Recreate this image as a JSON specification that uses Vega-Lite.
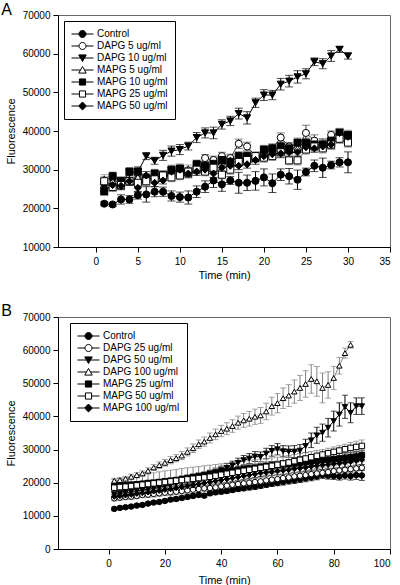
{
"$schema": "https://vega.github.io/schema/vega-lite/v6.json",
"padding": {"left": 0, "top": 1, "right": 5, "bottom": 0},
"config": {
  "font": "Liberation Sans",
  "view": {"stroke": "#666", "strokeWidth": 1},
  "axis": {"grid": false, "domainColor": "#000", "tickColor": "#000", "labelColor": "#000", "titleColor": "#000", "labelFontSize": 10, "titleFontSize": 11, "titleFontWeight": "normal", "tickSize": 5, "labelPadding": 3, "titlePadding": 6},
  "axisX": {"labelPadding": 4, "titlePadding": 3},
  "legend": {"titleFontSize": 10, "labelFontSize": 10, "labelColor": "#000", "symbolStrokeWidth": 1, "strokeColor": "#000", "fillColor": "#fff", "padding": 7, "labelOffset": 14, "symbolSize": 121, "rowPadding": -1},
  "title": {"fontWeight": "normal", "fontSize": 16, "anchor": "start", "frame": "bounds", "color": "#000"}
},
"datasets": {
"a": [
{"s":"Control","t":1,"v":21200,"e":500},{"s":"Control","t":2,"v":21000,"e":500},{"s":"Control","t":3,"v":22300,"e":1200},{"s":"Control","t":4,"v":22300,"e":1000},{"s":"Control","t":5,"v":23400,"e":1000},{"s":"Control","t":6,"v":23600,"e":2000},{"s":"Control","t":7,"v":24300,"e":1300},{"s":"Control","t":8,"v":24300,"e":1200},{"s":"Control","t":9,"v":23200,"e":1300},{"s":"Control","t":10,"v":22900,"e":1300},{"s":"Control","t":11,"v":22800,"e":1700},{"s":"Control","t":12,"v":24300,"e":1500},{"s":"Control","t":13,"v":25600,"e":1500},{"s":"Control","t":14,"v":27200,"e":1800},{"s":"Control","t":15,"v":26200,"e":1800},{"s":"Control","t":16,"v":27200,"e":1000},{"s":"Control","t":17,"v":26600,"e":2700},{"s":"Control","t":18,"v":26600,"e":2000},{"s":"Control","t":19,"v":27100,"e":2400},{"s":"Control","t":20,"v":28000,"e":2200},{"s":"Control","t":21,"v":26500,"e":2400},{"s":"Control","t":22,"v":28700,"e":1500},{"s":"Control","t":23,"v":28300,"e":2000},{"s":"Control","t":24,"v":27400,"e":2500},{"s":"Control","t":25,"v":29400,"e":1000},{"s":"Control","t":26,"v":31000,"e":1500},{"s":"Control","t":27,"v":30500,"e":2500},{"s":"Control","t":28,"v":31200,"e":1000},{"s":"Control","t":29,"v":31900,"e":1200},{"s":"Control","t":30,"v":31900,"e":2700},
{"s":"DAPG 5 ug/ml","t":1,"v":26500,"e":1200},{"s":"DAPG 5 ug/ml","t":2,"v":25500,"e":1000},{"s":"DAPG 5 ug/ml","t":3,"v":26500,"e":900},{"s":"DAPG 5 ug/ml","t":4,"v":27000,"e":1000},{"s":"DAPG 5 ug/ml","t":5,"v":27500,"e":1000},{"s":"DAPG 5 ug/ml","t":6,"v":27500,"e":900},{"s":"DAPG 5 ug/ml","t":7,"v":28000,"e":1000},{"s":"DAPG 5 ug/ml","t":8,"v":28500,"e":1000},{"s":"DAPG 5 ug/ml","t":9,"v":29000,"e":1100},{"s":"DAPG 5 ug/ml","t":10,"v":30000,"e":1000},{"s":"DAPG 5 ug/ml","t":11,"v":29500,"e":1100},{"s":"DAPG 5 ug/ml","t":12,"v":31000,"e":1000},{"s":"DAPG 5 ug/ml","t":13,"v":33000,"e":900},{"s":"DAPG 5 ug/ml","t":14,"v":32500,"e":1000},{"s":"DAPG 5 ug/ml","t":15,"v":33500,"e":1000},{"s":"DAPG 5 ug/ml","t":16,"v":33000,"e":1000},{"s":"DAPG 5 ug/ml","t":17,"v":36700,"e":1200},{"s":"DAPG 5 ug/ml","t":18,"v":36000,"e":1100},{"s":"DAPG 5 ug/ml","t":19,"v":33500,"e":1000},{"s":"DAPG 5 ug/ml","t":20,"v":34500,"e":1000},{"s":"DAPG 5 ug/ml","t":21,"v":35500,"e":1100},{"s":"DAPG 5 ug/ml","t":22,"v":38300,"e":1200},{"s":"DAPG 5 ug/ml","t":23,"v":36000,"e":1000},{"s":"DAPG 5 ug/ml","t":24,"v":35500,"e":1000},{"s":"DAPG 5 ug/ml","t":25,"v":39500,"e":2000},{"s":"DAPG 5 ug/ml","t":26,"v":37500,"e":1500},{"s":"DAPG 5 ug/ml","t":27,"v":36500,"e":1500},{"s":"DAPG 5 ug/ml","t":28,"v":39000,"e":1000},{"s":"DAPG 5 ug/ml","t":29,"v":39300,"e":1200},{"s":"DAPG 5 ug/ml","t":30,"v":38500,"e":1200},
{"s":"DAPG 10 ug/ml","t":1,"v":25500,"e":1000},{"s":"DAPG 10 ug/ml","t":2,"v":27000,"e":1200},{"s":"DAPG 10 ug/ml","t":3,"v":27000,"e":1000},{"s":"DAPG 10 ug/ml","t":4,"v":29000,"e":1200},{"s":"DAPG 10 ug/ml","t":5,"v":29500,"e":1200},{"s":"DAPG 10 ug/ml","t":6,"v":33500,"e":900},{"s":"DAPG 10 ug/ml","t":7,"v":32300,"e":900},{"s":"DAPG 10 ug/ml","t":8,"v":33700,"e":1300},{"s":"DAPG 10 ug/ml","t":9,"v":34800,"e":1300},{"s":"DAPG 10 ug/ml","t":10,"v":35200,"e":1300},{"s":"DAPG 10 ug/ml","t":11,"v":36100,"e":1000},{"s":"DAPG 10 ug/ml","t":12,"v":38300,"e":1300},{"s":"DAPG 10 ug/ml","t":13,"v":39500,"e":1300},{"s":"DAPG 10 ug/ml","t":14,"v":39500,"e":1500},{"s":"DAPG 10 ug/ml","t":15,"v":41700,"e":1200},{"s":"DAPG 10 ug/ml","t":16,"v":42600,"e":1200},{"s":"DAPG 10 ug/ml","t":17,"v":44500,"e":1400},{"s":"DAPG 10 ug/ml","t":18,"v":43400,"e":1600},{"s":"DAPG 10 ug/ml","t":19,"v":47300,"e":1200},{"s":"DAPG 10 ug/ml","t":20,"v":49300,"e":1400},{"s":"DAPG 10 ug/ml","t":21,"v":49300,"e":1200},{"s":"DAPG 10 ug/ml","t":22,"v":52100,"e":1500},{"s":"DAPG 10 ug/ml","t":23,"v":52900,"e":1500},{"s":"DAPG 10 ug/ml","t":24,"v":54000,"e":1600},{"s":"DAPG 10 ug/ml","t":25,"v":54800,"e":1300},{"s":"DAPG 10 ug/ml","t":26,"v":57900,"e":1000},{"s":"DAPG 10 ug/ml","t":27,"v":57400,"e":1300},{"s":"DAPG 10 ug/ml","t":28,"v":59400,"e":1400},{"s":"DAPG 10 ug/ml","t":29,"v":61100,"e":800},{"s":"DAPG 10 ug/ml","t":30,"v":59400,"e":800},
{"s":"MAPG 5 ug/ml","t":1,"v":27500,"e":1200},{"s":"MAPG 5 ug/ml","t":2,"v":27000,"e":1000},{"s":"MAPG 5 ug/ml","t":3,"v":26500,"e":1000},{"s":"MAPG 5 ug/ml","t":4,"v":27500,"e":1000},{"s":"MAPG 5 ug/ml","t":5,"v":28000,"e":1000},{"s":"MAPG 5 ug/ml","t":6,"v":28000,"e":900},{"s":"MAPG 5 ug/ml","t":7,"v":28500,"e":1000},{"s":"MAPG 5 ug/ml","t":8,"v":28800,"e":1000},{"s":"MAPG 5 ug/ml","t":9,"v":29500,"e":1000},{"s":"MAPG 5 ug/ml","t":10,"v":30000,"e":1000},{"s":"MAPG 5 ug/ml","t":11,"v":30200,"e":1000},{"s":"MAPG 5 ug/ml","t":12,"v":30500,"e":1100},{"s":"MAPG 5 ug/ml","t":13,"v":31000,"e":1000},{"s":"MAPG 5 ug/ml","t":14,"v":31500,"e":1000},{"s":"MAPG 5 ug/ml","t":15,"v":32000,"e":1000},{"s":"MAPG 5 ug/ml","t":16,"v":32500,"e":1000},{"s":"MAPG 5 ug/ml","t":17,"v":33000,"e":1100},{"s":"MAPG 5 ug/ml","t":18,"v":33500,"e":1100},{"s":"MAPG 5 ug/ml","t":19,"v":33500,"e":1000},{"s":"MAPG 5 ug/ml","t":20,"v":34000,"e":1000},{"s":"MAPG 5 ug/ml","t":21,"v":34500,"e":1000},{"s":"MAPG 5 ug/ml","t":22,"v":35000,"e":1100},{"s":"MAPG 5 ug/ml","t":23,"v":35000,"e":1000},{"s":"MAPG 5 ug/ml","t":24,"v":35500,"e":1000},{"s":"MAPG 5 ug/ml","t":25,"v":36000,"e":1100},{"s":"MAPG 5 ug/ml","t":26,"v":36500,"e":1000},{"s":"MAPG 5 ug/ml","t":27,"v":36500,"e":1100},{"s":"MAPG 5 ug/ml","t":28,"v":37000,"e":1000},{"s":"MAPG 5 ug/ml","t":29,"v":38000,"e":1100},{"s":"MAPG 5 ug/ml","t":30,"v":38500,"e":1100},
{"s":"MAPG 10 ug/ml","t":1,"v":24500,"e":1200},{"s":"MAPG 10 ug/ml","t":2,"v":28300,"e":1100},{"s":"MAPG 10 ug/ml","t":3,"v":27000,"e":1200},{"s":"MAPG 10 ug/ml","t":4,"v":29500,"e":1000},{"s":"MAPG 10 ug/ml","t":5,"v":29500,"e":1200},{"s":"MAPG 10 ug/ml","t":6,"v":27800,"e":1100},{"s":"MAPG 10 ug/ml","t":7,"v":29000,"e":1100},{"s":"MAPG 10 ug/ml","t":8,"v":28500,"e":1100},{"s":"MAPG 10 ug/ml","t":9,"v":30000,"e":1200},{"s":"MAPG 10 ug/ml","t":10,"v":30300,"e":1200},{"s":"MAPG 10 ug/ml","t":11,"v":29200,"e":1200},{"s":"MAPG 10 ug/ml","t":12,"v":31400,"e":1100},{"s":"MAPG 10 ug/ml","t":13,"v":31000,"e":1100},{"s":"MAPG 10 ug/ml","t":14,"v":31500,"e":1200},{"s":"MAPG 10 ug/ml","t":15,"v":32500,"e":1100},{"s":"MAPG 10 ug/ml","t":16,"v":32000,"e":1100},{"s":"MAPG 10 ug/ml","t":17,"v":33500,"e":1200},{"s":"MAPG 10 ug/ml","t":18,"v":33500,"e":1200},{"s":"MAPG 10 ug/ml","t":19,"v":33000,"e":1100},{"s":"MAPG 10 ug/ml","t":20,"v":35200,"e":1100},{"s":"MAPG 10 ug/ml","t":21,"v":35500,"e":1200},{"s":"MAPG 10 ug/ml","t":22,"v":36000,"e":1200},{"s":"MAPG 10 ug/ml","t":23,"v":35500,"e":1100},{"s":"MAPG 10 ug/ml","t":24,"v":37000,"e":1200},{"s":"MAPG 10 ug/ml","t":25,"v":37000,"e":1200},{"s":"MAPG 10 ug/ml","t":26,"v":36500,"e":1200},{"s":"MAPG 10 ug/ml","t":27,"v":36500,"e":1300},{"s":"MAPG 10 ug/ml","t":28,"v":37500,"e":1200},{"s":"MAPG 10 ug/ml","t":29,"v":39500,"e":1200},{"s":"MAPG 10 ug/ml","t":30,"v":39000,"e":1200},
{"s":"MAPG 25 ug/ml","t":1,"v":27000,"e":1200},{"s":"MAPG 25 ug/ml","t":2,"v":25500,"e":1100},{"s":"MAPG 25 ug/ml","t":3,"v":26000,"e":1100},{"s":"MAPG 25 ug/ml","t":4,"v":27000,"e":1100},{"s":"MAPG 25 ug/ml","t":5,"v":26600,"e":1100},{"s":"MAPG 25 ug/ml","t":6,"v":27000,"e":1100},{"s":"MAPG 25 ug/ml","t":7,"v":27500,"e":1100},{"s":"MAPG 25 ug/ml","t":8,"v":28500,"e":1200},{"s":"MAPG 25 ug/ml","t":9,"v":28000,"e":1100},{"s":"MAPG 25 ug/ml","t":10,"v":28500,"e":1100},{"s":"MAPG 25 ug/ml","t":11,"v":29500,"e":1100},{"s":"MAPG 25 ug/ml","t":12,"v":30000,"e":1100},{"s":"MAPG 25 ug/ml","t":13,"v":29500,"e":1100},{"s":"MAPG 25 ug/ml","t":14,"v":30500,"e":1200},{"s":"MAPG 25 ug/ml","t":15,"v":28700,"e":1100},{"s":"MAPG 25 ug/ml","t":16,"v":30000,"e":1200},{"s":"MAPG 25 ug/ml","t":17,"v":32000,"e":1200},{"s":"MAPG 25 ug/ml","t":18,"v":32500,"e":1200},{"s":"MAPG 25 ug/ml","t":19,"v":33500,"e":1100},{"s":"MAPG 25 ug/ml","t":20,"v":33100,"e":1200},{"s":"MAPG 25 ug/ml","t":21,"v":33500,"e":1100},{"s":"MAPG 25 ug/ml","t":22,"v":34500,"e":1200},{"s":"MAPG 25 ug/ml","t":23,"v":32400,"e":1100},{"s":"MAPG 25 ug/ml","t":24,"v":32400,"e":1200},{"s":"MAPG 25 ug/ml","t":25,"v":35200,"e":1200},{"s":"MAPG 25 ug/ml","t":26,"v":36000,"e":1200},{"s":"MAPG 25 ug/ml","t":27,"v":35500,"e":1200},{"s":"MAPG 25 ug/ml","t":28,"v":36500,"e":1200},{"s":"MAPG 25 ug/ml","t":29,"v":38000,"e":1200},{"s":"MAPG 25 ug/ml","t":30,"v":37000,"e":1200},
{"s":"MAPG 50 ug/ml","t":1,"v":24500,"e":1000},{"s":"MAPG 50 ug/ml","t":2,"v":26000,"e":900},{"s":"MAPG 50 ug/ml","t":3,"v":25800,"e":1000},{"s":"MAPG 50 ug/ml","t":4,"v":27000,"e":1000},{"s":"MAPG 50 ug/ml","t":5,"v":25300,"e":1100},{"s":"MAPG 50 ug/ml","t":6,"v":28500,"e":1000},{"s":"MAPG 50 ug/ml","t":7,"v":26600,"e":1000},{"s":"MAPG 50 ug/ml","t":8,"v":27200,"e":900},{"s":"MAPG 50 ug/ml","t":9,"v":29500,"e":1000},{"s":"MAPG 50 ug/ml","t":10,"v":30000,"e":1000},{"s":"MAPG 50 ug/ml","t":11,"v":29000,"e":1100},{"s":"MAPG 50 ug/ml","t":12,"v":29500,"e":1000},{"s":"MAPG 50 ug/ml","t":13,"v":30000,"e":1000},{"s":"MAPG 50 ug/ml","t":14,"v":29000,"e":1000},{"s":"MAPG 50 ug/ml","t":15,"v":30500,"e":1100},{"s":"MAPG 50 ug/ml","t":16,"v":31000,"e":1000},{"s":"MAPG 50 ug/ml","t":17,"v":31000,"e":1000},{"s":"MAPG 50 ug/ml","t":18,"v":31400,"e":1000},{"s":"MAPG 50 ug/ml","t":19,"v":32500,"e":1100},{"s":"MAPG 50 ug/ml","t":20,"v":33500,"e":1000},{"s":"MAPG 50 ug/ml","t":21,"v":34000,"e":1000},{"s":"MAPG 50 ug/ml","t":22,"v":34200,"e":1100},{"s":"MAPG 50 ug/ml","t":23,"v":34500,"e":1000},{"s":"MAPG 50 ug/ml","t":24,"v":34500,"e":1000},{"s":"MAPG 50 ug/ml","t":25,"v":35800,"e":1100},{"s":"MAPG 50 ug/ml","t":26,"v":35500,"e":1000},{"s":"MAPG 50 ug/ml","t":27,"v":36000,"e":1000},{"s":"MAPG 50 ug/ml","t":28,"v":36500,"e":1100},{"s":"MAPG 50 ug/ml","t":29,"v":39500,"e":1000},{"s":"MAPG 50 ug/ml","t":30,"v":38500,"e":1000}
],
"b": [
{"s":"Control","t":2,"v":12100,"e":500},{"s":"Control","t":4,"v":12400,"e":500},{"s":"Control","t":6,"v":12600,"e":500},{"s":"Control","t":8,"v":12800,"e":500},{"s":"Control","t":10,"v":13100,"e":500},{"s":"Control","t":12,"v":13300,"e":500},{"s":"Control","t":14,"v":13700,"e":500},{"s":"Control","t":16,"v":14000,"e":500},{"s":"Control","t":18,"v":14200,"e":500},{"s":"Control","t":20,"v":14500,"e":500},{"s":"Control","t":22,"v":14900,"e":600},{"s":"Control","t":24,"v":15100,"e":600},{"s":"Control","t":26,"v":15400,"e":600},{"s":"Control","t":28,"v":15700,"e":600},{"s":"Control","t":30,"v":16000,"e":600},{"s":"Control","t":32,"v":16300,"e":600},{"s":"Control","t":34,"v":16100,"e":600},{"s":"Control","t":36,"v":16800,"e":700},{"s":"Control","t":38,"v":17100,"e":700},{"s":"Control","t":40,"v":17300,"e":700},{"s":"Control","t":42,"v":17500,"e":700},{"s":"Control","t":44,"v":17800,"e":700},{"s":"Control","t":46,"v":18100,"e":700},{"s":"Control","t":48,"v":18300,"e":700},{"s":"Control","t":50,"v":18600,"e":800},{"s":"Control","t":52,"v":18800,"e":800},{"s":"Control","t":54,"v":19100,"e":800},{"s":"Control","t":56,"v":19400,"e":800},{"s":"Control","t":58,"v":19700,"e":800},{"s":"Control","t":60,"v":19900,"e":800},{"s":"Control","t":62,"v":20200,"e":900},{"s":"Control","t":64,"v":20500,"e":900},{"s":"Control","t":66,"v":20700,"e":900},{"s":"Control","t":68,"v":21000,"e":900},{"s":"Control","t":70,"v":21300,"e":1000},{"s":"Control","t":72,"v":21600,"e":1000},{"s":"Control","t":74,"v":21900,"e":1000},{"s":"Control","t":76,"v":22300,"e":1000},{"s":"Control","t":78,"v":22100,"e":1000},{"s":"Control","t":80,"v":22000,"e":1000},{"s":"Control","t":82,"v":21900,"e":1100},{"s":"Control","t":84,"v":22200,"e":1100},{"s":"Control","t":86,"v":22000,"e":1200},{"s":"Control","t":88,"v":22300,"e":1300},{"s":"Control","t":90,"v":22200,"e":1500},
{"s":"DAPG 25 ug/ml","t":2,"v":15300,"e":800},{"s":"DAPG 25 ug/ml","t":4,"v":15500,"e":800},{"s":"DAPG 25 ug/ml","t":6,"v":15700,"e":800},{"s":"DAPG 25 ug/ml","t":8,"v":15800,"e":800},{"s":"DAPG 25 ug/ml","t":10,"v":16000,"e":800},{"s":"DAPG 25 ug/ml","t":12,"v":16300,"e":800},{"s":"DAPG 25 ug/ml","t":14,"v":16400,"e":900},{"s":"DAPG 25 ug/ml","t":16,"v":16600,"e":900},{"s":"DAPG 25 ug/ml","t":18,"v":16800,"e":900},{"s":"DAPG 25 ug/ml","t":20,"v":17000,"e":900},{"s":"DAPG 25 ug/ml","t":22,"v":17100,"e":900},{"s":"DAPG 25 ug/ml","t":24,"v":17300,"e":900},{"s":"DAPG 25 ug/ml","t":26,"v":17500,"e":900},{"s":"DAPG 25 ug/ml","t":28,"v":17700,"e":900},{"s":"DAPG 25 ug/ml","t":30,"v":17900,"e":1000},{"s":"DAPG 25 ug/ml","t":32,"v":18100,"e":1000},{"s":"DAPG 25 ug/ml","t":34,"v":18300,"e":1000},{"s":"DAPG 25 ug/ml","t":36,"v":18400,"e":1000},{"s":"DAPG 25 ug/ml","t":38,"v":18600,"e":1000},{"s":"DAPG 25 ug/ml","t":40,"v":18900,"e":1000},{"s":"DAPG 25 ug/ml","t":42,"v":19100,"e":1000},{"s":"DAPG 25 ug/ml","t":44,"v":19400,"e":1000},{"s":"DAPG 25 ug/ml","t":46,"v":19600,"e":1100},{"s":"DAPG 25 ug/ml","t":48,"v":19800,"e":1100},{"s":"DAPG 25 ug/ml","t":50,"v":20000,"e":1100},{"s":"DAPG 25 ug/ml","t":52,"v":20200,"e":1100},{"s":"DAPG 25 ug/ml","t":54,"v":20400,"e":1100},{"s":"DAPG 25 ug/ml","t":56,"v":20700,"e":1200},{"s":"DAPG 25 ug/ml","t":58,"v":20900,"e":1200},{"s":"DAPG 25 ug/ml","t":60,"v":21100,"e":1200},{"s":"DAPG 25 ug/ml","t":62,"v":21400,"e":1200},{"s":"DAPG 25 ug/ml","t":64,"v":21600,"e":1300},{"s":"DAPG 25 ug/ml","t":66,"v":21900,"e":1300},{"s":"DAPG 25 ug/ml","t":68,"v":22100,"e":1300},{"s":"DAPG 25 ug/ml","t":70,"v":22300,"e":1400},{"s":"DAPG 25 ug/ml","t":72,"v":22600,"e":1400},{"s":"DAPG 25 ug/ml","t":74,"v":22800,"e":1500},{"s":"DAPG 25 ug/ml","t":76,"v":23000,"e":1500},{"s":"DAPG 25 ug/ml","t":78,"v":23200,"e":1600},{"s":"DAPG 25 ug/ml","t":80,"v":23500,"e":1600},{"s":"DAPG 25 ug/ml","t":82,"v":23700,"e":1700},{"s":"DAPG 25 ug/ml","t":84,"v":23900,"e":1700},{"s":"DAPG 25 ug/ml","t":86,"v":24100,"e":1800},{"s":"DAPG 25 ug/ml","t":88,"v":24300,"e":1800},{"s":"DAPG 25 ug/ml","t":90,"v":24500,"e":1900},
{"s":"DAPG 50 ug/ml","t":2,"v":16500,"e":800},{"s":"DAPG 50 ug/ml","t":4,"v":16800,"e":800},{"s":"DAPG 50 ug/ml","t":6,"v":17000,"e":800},{"s":"DAPG 50 ug/ml","t":8,"v":17300,"e":800},{"s":"DAPG 50 ug/ml","t":10,"v":17600,"e":800},{"s":"DAPG 50 ug/ml","t":12,"v":17800,"e":900},{"s":"DAPG 50 ug/ml","t":14,"v":18000,"e":900},{"s":"DAPG 50 ug/ml","t":16,"v":18300,"e":900},{"s":"DAPG 50 ug/ml","t":18,"v":18600,"e":900},{"s":"DAPG 50 ug/ml","t":20,"v":19000,"e":1000},{"s":"DAPG 50 ug/ml","t":22,"v":19300,"e":1000},{"s":"DAPG 50 ug/ml","t":24,"v":19700,"e":1000},{"s":"DAPG 50 ug/ml","t":26,"v":20100,"e":1000},{"s":"DAPG 50 ug/ml","t":28,"v":20500,"e":1000},{"s":"DAPG 50 ug/ml","t":30,"v":21000,"e":1100},{"s":"DAPG 50 ug/ml","t":32,"v":21500,"e":1100},{"s":"DAPG 50 ug/ml","t":34,"v":22000,"e":1100},{"s":"DAPG 50 ug/ml","t":36,"v":22600,"e":1200},{"s":"DAPG 50 ug/ml","t":38,"v":23200,"e":1200},{"s":"DAPG 50 ug/ml","t":40,"v":23800,"e":1200},{"s":"DAPG 50 ug/ml","t":42,"v":24500,"e":1300},{"s":"DAPG 50 ug/ml","t":44,"v":25200,"e":1300},{"s":"DAPG 50 ug/ml","t":46,"v":26000,"e":1400},{"s":"DAPG 50 ug/ml","t":48,"v":26800,"e":1400},{"s":"DAPG 50 ug/ml","t":50,"v":27300,"e":1500},{"s":"DAPG 50 ug/ml","t":52,"v":27900,"e":1500},{"s":"DAPG 50 ug/ml","t":54,"v":27800,"e":1500},{"s":"DAPG 50 ug/ml","t":56,"v":28800,"e":1600},{"s":"DAPG 50 ug/ml","t":58,"v":29600,"e":1600},{"s":"DAPG 50 ug/ml","t":60,"v":30100,"e":1700},{"s":"DAPG 50 ug/ml","t":62,"v":29500,"e":1700},{"s":"DAPG 50 ug/ml","t":64,"v":29400,"e":1700},{"s":"DAPG 50 ug/ml","t":66,"v":29400,"e":1800},{"s":"DAPG 50 ug/ml","t":68,"v":29700,"e":1800},{"s":"DAPG 50 ug/ml","t":70,"v":31100,"e":2000},{"s":"DAPG 50 ug/ml","t":72,"v":32800,"e":2200},{"s":"DAPG 50 ug/ml","t":74,"v":34300,"e":2400},{"s":"DAPG 50 ug/ml","t":76,"v":35100,"e":2600},{"s":"DAPG 50 ug/ml","t":78,"v":36600,"e":2800},{"s":"DAPG 50 ug/ml","t":80,"v":38600,"e":3000},{"s":"DAPG 50 ug/ml","t":82,"v":40600,"e":3500},{"s":"DAPG 50 ug/ml","t":84,"v":42900,"e":3500},{"s":"DAPG 50 ug/ml","t":86,"v":41100,"e":3000},{"s":"DAPG 50 ug/ml","t":88,"v":43100,"e":2500},{"s":"DAPG 50 ug/ml","t":90,"v":43100,"e":2500},
{"s":"DAPG 100 ug/ml","t":2,"v":20600,"e":700},{"s":"DAPG 100 ug/ml","t":4,"v":20800,"e":700},{"s":"DAPG 100 ug/ml","t":6,"v":21200,"e":700},{"s":"DAPG 100 ug/ml","t":8,"v":21800,"e":800},{"s":"DAPG 100 ug/ml","t":10,"v":22300,"e":800},{"s":"DAPG 100 ug/ml","t":12,"v":22800,"e":800},{"s":"DAPG 100 ug/ml","t":14,"v":23600,"e":900},{"s":"DAPG 100 ug/ml","t":16,"v":24600,"e":900},{"s":"DAPG 100 ug/ml","t":18,"v":25300,"e":1000},{"s":"DAPG 100 ug/ml","t":20,"v":26000,"e":1000},{"s":"DAPG 100 ug/ml","t":22,"v":26800,"e":1100},{"s":"DAPG 100 ug/ml","t":24,"v":27400,"e":1100},{"s":"DAPG 100 ug/ml","t":26,"v":28200,"e":1200},{"s":"DAPG 100 ug/ml","t":28,"v":29300,"e":1200},{"s":"DAPG 100 ug/ml","t":30,"v":30400,"e":1300},{"s":"DAPG 100 ug/ml","t":32,"v":31600,"e":1300},{"s":"DAPG 100 ug/ml","t":34,"v":32400,"e":1400},{"s":"DAPG 100 ug/ml","t":36,"v":33500,"e":1500},{"s":"DAPG 100 ug/ml","t":38,"v":34600,"e":1600},{"s":"DAPG 100 ug/ml","t":40,"v":35600,"e":1700},{"s":"DAPG 100 ug/ml","t":42,"v":36300,"e":1800},{"s":"DAPG 100 ug/ml","t":44,"v":37100,"e":1900},{"s":"DAPG 100 ug/ml","t":46,"v":38100,"e":2000},{"s":"DAPG 100 ug/ml","t":48,"v":38800,"e":2100},{"s":"DAPG 100 ug/ml","t":50,"v":39300,"e":2200},{"s":"DAPG 100 ug/ml","t":52,"v":39900,"e":2300},{"s":"DAPG 100 ug/ml","t":54,"v":40300,"e":2400},{"s":"DAPG 100 ug/ml","t":56,"v":41500,"e":2500},{"s":"DAPG 100 ug/ml","t":58,"v":43100,"e":2700},{"s":"DAPG 100 ug/ml","t":60,"v":44000,"e":2900},{"s":"DAPG 100 ug/ml","t":62,"v":45500,"e":3100},{"s":"DAPG 100 ug/ml","t":64,"v":46300,"e":3300},{"s":"DAPG 100 ug/ml","t":66,"v":47500,"e":3500},{"s":"DAPG 100 ug/ml","t":68,"v":48600,"e":3800},{"s":"DAPG 100 ug/ml","t":70,"v":49800,"e":4000},{"s":"DAPG 100 ug/ml","t":72,"v":51300,"e":4300},{"s":"DAPG 100 ug/ml","t":74,"v":50600,"e":4500},{"s":"DAPG 100 ug/ml","t":76,"v":48600,"e":4500},{"s":"DAPG 100 ug/ml","t":78,"v":49500,"e":4000},{"s":"DAPG 100 ug/ml","t":80,"v":51600,"e":3500},{"s":"DAPG 100 ug/ml","t":82,"v":55300,"e":2500},{"s":"DAPG 100 ug/ml","t":84,"v":59100,"e":1500},{"s":"DAPG 100 ug/ml","t":86,"v":61600,"e":1000},
{"s":"MAPG 25 ug/ml","t":2,"v":18900,"e":700},{"s":"MAPG 25 ug/ml","t":4,"v":19100,"e":700},{"s":"MAPG 25 ug/ml","t":6,"v":19200,"e":700},{"s":"MAPG 25 ug/ml","t":8,"v":19400,"e":700},{"s":"MAPG 25 ug/ml","t":10,"v":19500,"e":700},{"s":"MAPG 25 ug/ml","t":12,"v":19700,"e":700},{"s":"MAPG 25 ug/ml","t":14,"v":19900,"e":800},{"s":"MAPG 25 ug/ml","t":16,"v":20000,"e":800},{"s":"MAPG 25 ug/ml","t":18,"v":20200,"e":800},{"s":"MAPG 25 ug/ml","t":20,"v":20400,"e":800},{"s":"MAPG 25 ug/ml","t":22,"v":20600,"e":800},{"s":"MAPG 25 ug/ml","t":24,"v":20800,"e":800},{"s":"MAPG 25 ug/ml","t":26,"v":21100,"e":900},{"s":"MAPG 25 ug/ml","t":28,"v":21400,"e":900},{"s":"MAPG 25 ug/ml","t":30,"v":21700,"e":900},{"s":"MAPG 25 ug/ml","t":32,"v":22000,"e":900},{"s":"MAPG 25 ug/ml","t":34,"v":22300,"e":900},{"s":"MAPG 25 ug/ml","t":36,"v":22600,"e":1000},{"s":"MAPG 25 ug/ml","t":38,"v":22800,"e":1000},{"s":"MAPG 25 ug/ml","t":40,"v":23100,"e":1000},{"s":"MAPG 25 ug/ml","t":42,"v":23400,"e":1000},{"s":"MAPG 25 ug/ml","t":44,"v":23600,"e":1000},{"s":"MAPG 25 ug/ml","t":46,"v":23900,"e":1100},{"s":"MAPG 25 ug/ml","t":48,"v":24100,"e":1100},{"s":"MAPG 25 ug/ml","t":50,"v":24300,"e":1100},{"s":"MAPG 25 ug/ml","t":52,"v":24500,"e":1100},{"s":"MAPG 25 ug/ml","t":54,"v":24700,"e":1100},{"s":"MAPG 25 ug/ml","t":56,"v":25000,"e":1200},{"s":"MAPG 25 ug/ml","t":58,"v":25200,"e":1200},{"s":"MAPG 25 ug/ml","t":60,"v":25300,"e":1200},{"s":"MAPG 25 ug/ml","t":62,"v":25500,"e":1200},{"s":"MAPG 25 ug/ml","t":64,"v":25700,"e":1200},{"s":"MAPG 25 ug/ml","t":66,"v":25800,"e":1300},{"s":"MAPG 25 ug/ml","t":68,"v":26000,"e":1300},{"s":"MAPG 25 ug/ml","t":70,"v":26200,"e":1300},{"s":"MAPG 25 ug/ml","t":72,"v":26400,"e":1300},{"s":"MAPG 25 ug/ml","t":74,"v":26600,"e":1400},{"s":"MAPG 25 ug/ml","t":76,"v":26800,"e":1400},{"s":"MAPG 25 ug/ml","t":78,"v":26900,"e":1400},{"s":"MAPG 25 ug/ml","t":80,"v":27100,"e":1400},{"s":"MAPG 25 ug/ml","t":82,"v":27300,"e":1500},{"s":"MAPG 25 ug/ml","t":84,"v":27500,"e":1500},{"s":"MAPG 25 ug/ml","t":86,"v":27700,"e":1500},{"s":"MAPG 25 ug/ml","t":88,"v":27900,"e":1500},{"s":"MAPG 25 ug/ml","t":90,"v":28300,"e":1500},
{"s":"MAPG 50 ug/ml","t":2,"v":18500,"e":2500},{"s":"MAPG 50 ug/ml","t":4,"v":18700,"e":2600},{"s":"MAPG 50 ug/ml","t":6,"v":18800,"e":2700},{"s":"MAPG 50 ug/ml","t":8,"v":19000,"e":2800},{"s":"MAPG 50 ug/ml","t":10,"v":19200,"e":2900},{"s":"MAPG 50 ug/ml","t":12,"v":19400,"e":3000},{"s":"MAPG 50 ug/ml","t":14,"v":19600,"e":3100},{"s":"MAPG 50 ug/ml","t":16,"v":19800,"e":3200},{"s":"MAPG 50 ug/ml","t":18,"v":20000,"e":3300},{"s":"MAPG 50 ug/ml","t":20,"v":20200,"e":3400},{"s":"MAPG 50 ug/ml","t":22,"v":20400,"e":3400},{"s":"MAPG 50 ug/ml","t":24,"v":20600,"e":3400},{"s":"MAPG 50 ug/ml","t":26,"v":20800,"e":3500},{"s":"MAPG 50 ug/ml","t":28,"v":21000,"e":3500},{"s":"MAPG 50 ug/ml","t":30,"v":21200,"e":3500},{"s":"MAPG 50 ug/ml","t":32,"v":21400,"e":3500},{"s":"MAPG 50 ug/ml","t":34,"v":21600,"e":3500},{"s":"MAPG 50 ug/ml","t":36,"v":21800,"e":3500},{"s":"MAPG 50 ug/ml","t":38,"v":22100,"e":3400},{"s":"MAPG 50 ug/ml","t":40,"v":22400,"e":3300},{"s":"MAPG 50 ug/ml","t":42,"v":22700,"e":3200},{"s":"MAPG 50 ug/ml","t":44,"v":23000,"e":3100},{"s":"MAPG 50 ug/ml","t":46,"v":23300,"e":3000},{"s":"MAPG 50 ug/ml","t":48,"v":23600,"e":2900},{"s":"MAPG 50 ug/ml","t":50,"v":23900,"e":2800},{"s":"MAPG 50 ug/ml","t":52,"v":24200,"e":2700},{"s":"MAPG 50 ug/ml","t":54,"v":24500,"e":2600},{"s":"MAPG 50 ug/ml","t":56,"v":24800,"e":2500},{"s":"MAPG 50 ug/ml","t":58,"v":25100,"e":2400},{"s":"MAPG 50 ug/ml","t":60,"v":25400,"e":2300},{"s":"MAPG 50 ug/ml","t":62,"v":25800,"e":2200},{"s":"MAPG 50 ug/ml","t":64,"v":26100,"e":2100},{"s":"MAPG 50 ug/ml","t":66,"v":26500,"e":2000},{"s":"MAPG 50 ug/ml","t":68,"v":26900,"e":1900},{"s":"MAPG 50 ug/ml","t":70,"v":27300,"e":1800},{"s":"MAPG 50 ug/ml","t":72,"v":27700,"e":1700},{"s":"MAPG 50 ug/ml","t":74,"v":28100,"e":1600},{"s":"MAPG 50 ug/ml","t":76,"v":28500,"e":1500},{"s":"MAPG 50 ug/ml","t":78,"v":28900,"e":1500},{"s":"MAPG 50 ug/ml","t":80,"v":29300,"e":1500},{"s":"MAPG 50 ug/ml","t":82,"v":29700,"e":1500},{"s":"MAPG 50 ug/ml","t":84,"v":30100,"e":1500},{"s":"MAPG 50 ug/ml","t":86,"v":30500,"e":1600},{"s":"MAPG 50 ug/ml","t":88,"v":30800,"e":1700},{"s":"MAPG 50 ug/ml","t":90,"v":31100,"e":1800},
{"s":"MAPG 100 ug/ml","t":2,"v":15800,"e":600},{"s":"MAPG 100 ug/ml","t":4,"v":16000,"e":600},{"s":"MAPG 100 ug/ml","t":6,"v":16200,"e":600},{"s":"MAPG 100 ug/ml","t":8,"v":16400,"e":600},{"s":"MAPG 100 ug/ml","t":10,"v":16700,"e":600},{"s":"MAPG 100 ug/ml","t":12,"v":16900,"e":700},{"s":"MAPG 100 ug/ml","t":14,"v":17100,"e":700},{"s":"MAPG 100 ug/ml","t":16,"v":17400,"e":700},{"s":"MAPG 100 ug/ml","t":18,"v":17600,"e":700},{"s":"MAPG 100 ug/ml","t":20,"v":17900,"e":700},{"s":"MAPG 100 ug/ml","t":22,"v":18100,"e":800},{"s":"MAPG 100 ug/ml","t":24,"v":18400,"e":800},{"s":"MAPG 100 ug/ml","t":26,"v":18700,"e":800},{"s":"MAPG 100 ug/ml","t":28,"v":19000,"e":800},{"s":"MAPG 100 ug/ml","t":30,"v":19300,"e":800},{"s":"MAPG 100 ug/ml","t":32,"v":19600,"e":900},{"s":"MAPG 100 ug/ml","t":34,"v":19900,"e":900},{"s":"MAPG 100 ug/ml","t":36,"v":20200,"e":900},{"s":"MAPG 100 ug/ml","t":38,"v":20500,"e":900},{"s":"MAPG 100 ug/ml","t":40,"v":20800,"e":900},{"s":"MAPG 100 ug/ml","t":42,"v":21100,"e":1000},{"s":"MAPG 100 ug/ml","t":44,"v":21400,"e":1000},{"s":"MAPG 100 ug/ml","t":46,"v":21700,"e":1000},{"s":"MAPG 100 ug/ml","t":48,"v":22000,"e":1000},{"s":"MAPG 100 ug/ml","t":50,"v":22300,"e":1000},{"s":"MAPG 100 ug/ml","t":52,"v":22600,"e":1100},{"s":"MAPG 100 ug/ml","t":54,"v":22900,"e":1100},{"s":"MAPG 100 ug/ml","t":56,"v":23100,"e":1100},{"s":"MAPG 100 ug/ml","t":58,"v":23300,"e":1100},{"s":"MAPG 100 ug/ml","t":60,"v":23500,"e":1100},{"s":"MAPG 100 ug/ml","t":62,"v":23700,"e":1200},{"s":"MAPG 100 ug/ml","t":64,"v":23900,"e":1200},{"s":"MAPG 100 ug/ml","t":66,"v":24200,"e":1200},{"s":"MAPG 100 ug/ml","t":68,"v":24400,"e":1200},{"s":"MAPG 100 ug/ml","t":70,"v":24600,"e":1200},{"s":"MAPG 100 ug/ml","t":72,"v":24900,"e":1300},{"s":"MAPG 100 ug/ml","t":74,"v":25100,"e":1300},{"s":"MAPG 100 ug/ml","t":76,"v":25300,"e":1300},{"s":"MAPG 100 ug/ml","t":78,"v":25500,"e":1300},{"s":"MAPG 100 ug/ml","t":80,"v":25700,"e":1300},{"s":"MAPG 100 ug/ml","t":82,"v":25900,"e":1400},{"s":"MAPG 100 ug/ml","t":84,"v":26100,"e":1400},{"s":"MAPG 100 ug/ml","t":86,"v":26400,"e":1400},{"s":"MAPG 100 ug/ml","t":88,"v":26700,"e":1400},{"s":"MAPG 100 ug/ml","t":90,"v":27000,"e":1500}
]
},
"spacing": 21,
"resolve": {"scale": {"color": "independent", "shape": "independent", "fill": "independent"}, "legend": {"shape": "independent", "fill": "independent", "color": "independent"}},
"vconcat": [
{
  "width": 332, "height": 232,
  "title": {"text": "A", "dy": 12, "dx": -4},
  "data": {"name": "a"},
  "encoding": {
    "x": {"field": "t", "type": "quantitative", "scale": {"domain": [-4.5, 35], "nice": false, "zero": false}, "axis": {"values": [0,5,10,15,20,25,30,35], "title": "Time (min)"}},
    "y": {"field": "v", "type": "quantitative", "scale": {"domain": [10000, 70000], "nice": false, "zero": false}, "axis": {"values": [10000,20000,30000,40000,50000,60000,70000], "format": "d", "title": "Fluorescence"}}
  },
  "resolve": {"scale": {"shape": "independent"}, "legend": {"shape": "independent", "fill": "independent"}},
  "layer": [
    {"mark": {"type": "errorbar", "ticks": true, "size": 8, "thickness": 1},
     "encoding": {"yError": {"field": "e"},
       "color": {"field": "s", "type": "nominal", "legend": null, "scale": {"domain": ["Control","DAPG 5 ug/ml","DAPG 10 ug/ml","MAPG 5 ug/ml","MAPG 10 ug/ml","MAPG 25 ug/ml","MAPG 50 ug/ml"], "range": ["#000000","#444444","#000000","#888888","#888888","#888888","#000000"]}}}},
    {"mark": {"type": "line", "strokeWidth": 1},
     "encoding": {"color": {"field": "s", "type": "nominal", "legend": null}}},
    {"mark": {"type": "point", "filled": true, "stroke": "#000", "strokeWidth": 1, "opacity": 1, "size": 50},
     "encoding": {
       "shape": {"field": "s", "type": "nominal", "legend": null, "scale": {"domain": ["Control","DAPG 5 ug/ml","DAPG 10 ug/ml","MAPG 5 ug/ml","MAPG 10 ug/ml","MAPG 25 ug/ml","MAPG 50 ug/ml"], "range": ["circle","circle","triangle-down","triangle-up","square","square","diamond"]}},
       "fill": {"field": "s", "type": "nominal", "legend": null, "scale": {"domain": ["Control","DAPG 5 ug/ml","DAPG 10 ug/ml","MAPG 5 ug/ml","MAPG 10 ug/ml","MAPG 25 ug/ml","MAPG 50 ug/ml"], "range": ["#000","#fff","#000","#fff","#000","#fff","#000"]}}
     }},
    {"transform": [{"filter": "datum.t < -100"}],
     "mark": {"type": "point", "filled": true, "stroke": "#000", "strokeWidth": 1, "opacity": 1},
     "encoding": {
       "shape": {"field": "s", "type": "nominal", "scale": {"domain": ["Control","DAPG 5 ug/ml","DAPG 10 ug/ml","MAPG 5 ug/ml","MAPG 10 ug/ml","MAPG 25 ug/ml","MAPG 50 ug/ml"], "range": ["M-1,0H0.36M1.64,0H3M0.36,0A0.64,0.64,0,1,1,1.64,0A0.64,0.64,0,1,1,0.36,0Z","M-1,0H0.36M1.64,0H3M0.36,0A0.64,0.64,0,1,1,1.64,0A0.64,0.64,0,1,1,0.36,0Z","M-1,0H0.64M1.36,0H3M0.32,-0.56H1.68L1,0.64Z","M-1,0H0.64M1.36,0H3M0.32,0.56H1.68L1,-0.64Z","M-1,0H0.44M1.56,0H3M0.44,-0.56H1.56V0.56H0.44Z","M-1,0H0.44M1.56,0H3M0.44,-0.56H1.56V0.56H0.44Z","M-1,0H0.28M1.72,0H3M1,-0.72L1.72,0L1,0.72L0.28,0Z"]},
         "legend": {"title": null, "orient": "none", "legendX": 6, "legendY": 6, "symbolSize": 121, "labelOffset": 14, "rowPadding": -1}},
       "fill": {"field": "s", "type": "nominal",
         "legend": {"title": null, "orient": "none", "legendX": 6, "legendY": 6, "symbolSize": 121, "labelOffset": 14, "rowPadding": -1}}
     }}
  ]
},
{
  "width": 332, "height": 232,
  "title": {"text": "B", "dy": 11, "dx": -4},
  "data": {"name": "b"},
  "encoding": {
    "x": {"field": "t", "type": "quantitative", "scale": {"domain": [-18, 100], "nice": false, "zero": false}, "axis": {"values": [0,20,40,60,80,100], "title": "Time (min)", "titlePadding": 6}},
    "y": {"field": "v", "type": "quantitative", "scale": {"domain": [0, 70000], "nice": false}, "axis": {"values": [0,10000,20000,30000,40000,50000,60000,70000], "format": "d", "title": "Fluorescence"}}
  },
  "resolve": {"scale": {"shape": "independent"}, "legend": {"shape": "independent", "fill": "independent"}},
  "layer": [
    {"mark": {"type": "errorbar", "ticks": true, "size": 6, "thickness": 1},
     "encoding": {"yError": {"field": "e"},
       "color": {"field": "s", "type": "nominal", "legend": null, "scale": {"domain": ["Control","DAPG 25 ug/ml","DAPG 50 ug/ml","DAPG 100 ug/ml","MAPG 25 ug/ml","MAPG 50 ug/ml","MAPG 100 ug/ml"], "range": ["#000000","#808080","#000000","#808080","#000000","#808080","#000000"]}}}},
    {"mark": {"type": "line", "strokeWidth": 1},
     "encoding": {"color": {"field": "s", "type": "nominal", "legend": null}}},
    {"mark": {"type": "point", "filled": true, "stroke": "#000", "strokeWidth": 1, "opacity": 1, "size": 30},
     "encoding": {
       "shape": {"field": "s", "type": "nominal", "legend": null, "scale": {"domain": ["Control","DAPG 25 ug/ml","DAPG 50 ug/ml","DAPG 100 ug/ml","MAPG 25 ug/ml","MAPG 50 ug/ml","MAPG 100 ug/ml"], "range": ["circle","circle","triangle-down","triangle-up","square","square","diamond"]}},
       "fill": {"field": "s", "type": "nominal", "legend": null, "scale": {"domain": ["Control","DAPG 25 ug/ml","DAPG 50 ug/ml","DAPG 100 ug/ml","MAPG 25 ug/ml","MAPG 50 ug/ml","MAPG 100 ug/ml"], "range": ["#000","#fff","#000","#fff","#000","#fff","#000"]}}
     }},
    {"transform": [{"filter": "datum.t < -100"}],
     "mark": {"type": "point", "filled": true, "stroke": "#000", "strokeWidth": 1, "opacity": 1},
     "encoding": {
       "shape": {"field": "s", "type": "nominal", "scale": {"domain": ["Control","DAPG 25 ug/ml","DAPG 50 ug/ml","DAPG 100 ug/ml","MAPG 25 ug/ml","MAPG 50 ug/ml","MAPG 100 ug/ml"], "range": ["M-1,0H0.36M1.64,0H3M0.36,0A0.64,0.64,0,1,1,1.64,0A0.64,0.64,0,1,1,0.36,0Z","M-1,0H0.36M1.64,0H3M0.36,0A0.64,0.64,0,1,1,1.64,0A0.64,0.64,0,1,1,0.36,0Z","M-1,0H0.64M1.36,0H3M0.32,-0.56H1.68L1,0.64Z","M-1,0H0.64M1.36,0H3M0.32,0.56H1.68L1,-0.64Z","M-1,0H0.44M1.56,0H3M0.44,-0.56H1.56V0.56H0.44Z","M-1,0H0.44M1.56,0H3M0.44,-0.56H1.56V0.56H0.44Z","M-1,0H0.28M1.72,0H3M1,-0.72L1.72,0L1,0.72L0.28,0Z"]},
         "legend": {"title": null, "orient": "none", "legendX": 12, "legendY": 6, "symbolSize": 121, "labelOffset": 14, "rowPadding": -1}},
       "fill": {"field": "s", "type": "nominal",
         "legend": {"title": null, "orient": "none", "legendX": 12, "legendY": 6, "symbolSize": 121, "labelOffset": 14, "rowPadding": -1}}
     }}
  ]
}
]
}
